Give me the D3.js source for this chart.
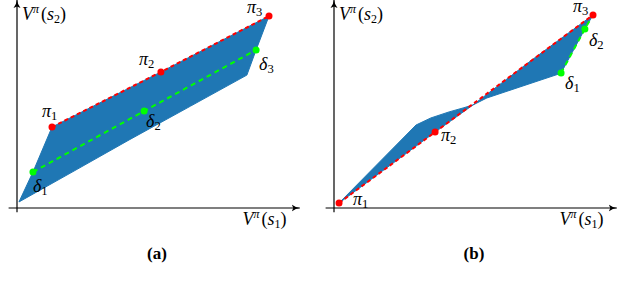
<!DOCTYPE html>
<html>
<head>
<meta charset="utf-8">
<script src="https://cdn.jsdelivr.net/npm/d3@7"></script>
<style>
  body { margin: 0; background: #fff; }
  svg { display: block; }
</style>
</head>
<body>
<svg id="chart" width="636" height="282"></svg>
<script>
const FONT = 'Liberation Serif';

// panel (a): value region, deterministic policies, and their mixture line
const regionA = [[0.007, 0.029], [0.057, 0.173], [0.125, 0.389], [0.514, 0.654], [0.9, 0.923],
	[0.854, 0.76], [0.821, 0.639], [0.62, 0.49], [0.4, 0.327], [0.2, 0.175]];
const piA = [[0.125, 0.389], [0.514, 0.654], [0.9, 0.923]];
const deltaA = [[0.057, 0.173], [0.454, 0.466], [0.854, 0.76]];

// panel (b)
const regionB = [[0.018, 0.024], [0.293, 0.399], [0.346, 0.433], [0.411, 0.462], [0.461, 0.481],
	[0.496, 0.495], [0.7, 0.705], [0.925, 0.928], [0.896, 0.861], [0.811, 0.649],
	[0.8, 0.643], [0.664, 0.582], [0.546, 0.529], [0.496, 0.495], [0.361, 0.365], [0.018, 0.024]];
const piB = [[0.018, 0.024], [0.361, 0.365], [0.925, 0.928]];
const deltaB = [[0.811, 0.649], [0.896, 0.861], [0.925, 0.928]];

const piNames = ['1', '2', '3'];
const deltaNamesA = ['1', '2', '3'];
const deltaNamesB = ['1', '2'];
const panelTitles = ['(a)', '(b)'];

const svg = d3.select('#chart');

svg.append('defs').append('marker')
	.attr('id', 'arrowhead')
	.attr('markerUnits', 'userSpaceOnUse')
	.attr('markerWidth', 10)
	.attr('markerHeight', 8)
	.attr('refX', 8)
	.attr('refY', 4)
	.attr('orient', 'auto')
	.append('path')
		.attr('d', 'M0,0.5 Q4,3.5 8,4 Q4,4.5 0,7.5 L1.5,4 Z')
		.attr('fill', '#000');

function sub(base, index, x, y, size) {
	const t = svg.append('text')
		.attr('font-family', FONT)
		.attr('font-style', 'italic')
		.attr('x', x)
		.attr('y', y)
		.attr('font-size', size);
	t.append('tspan').text(base);
	t.append('tspan').attr('dy', 3).attr('font-size', size * 0.7).attr('font-style', 'normal').text(index);
	return t;
}

function axisLabel(x, y, s) {
	const t = svg.append('text')
		.attr('font-family', FONT)
		.attr('font-style', 'italic')
		.attr('x', x)
		.attr('y', y)
		.attr('font-size', 18);
	t.append('tspan').text('V');
	t.append('tspan').attr('dy', -7).attr('font-size', 12).text('π');
	t.append('tspan').attr('dy', 7).attr('dx', 2).attr('font-style', 'normal').text('(');
	t.append('tspan').text('s');
	t.append('tspan').attr('dy', 3).attr('font-size', 12).attr('font-style', 'normal').text(s);
	t.append('tspan').attr('dy', -3).attr('font-style', 'normal').text(')');
}

function drawPanel(opt) {
	const x = d3.scaleLinear().domain([0, 1]).range([opt.x0, opt.x0 + 280]);
	const y = d3.scaleLinear().domain([0, 1]).range([208, 0]);
	const g = svg.append('g');

	// axes
	g.append('line')
		.attr('x1', x(-0.03)).attr('y1', y(0)).attr('x2', x(1.01)).attr('y2', y(0))
		.attr('stroke', '#000').attr('stroke-width', 1.2).attr('marker-end', 'url(#arrowhead)');
	g.append('line')
		.attr('x1', x(0)).attr('y1', y(-0.02)).attr('x2', x(0)).attr('y2', y(1.0))
		.attr('stroke', '#000').attr('stroke-width', 1.2).attr('marker-end', 'url(#arrowhead)');

	const line = d3.line().x(d => x(d[0])).y(d => y(d[1]));

	g.append('path')
		.attr('d', line(opt.region) + 'Z')
		.attr('fill', '#1f77b4')
		.attr('stroke', '#1f77b4')
		.attr('stroke-width', 1);

	g.append('path')
		.attr('d', line(opt.pi))
		.attr('fill', 'none')
		.attr('stroke', '#ff0000')
		.attr('stroke-width', 2)
		.attr('stroke-dasharray', '4,3');

	g.append('path')
		.attr('d', line(opt.delta))
		.attr('fill', 'none')
		.attr('stroke', '#00ff00')
		.attr('stroke-width', 2)
		.attr('stroke-dasharray', '5,4');

	g.selectAll('circle.pi')
		.data(opt.pi)
		.enter().append('circle')
			.attr('cx', d => x(d[0]))
			.attr('cy', d => y(d[1]))
			.attr('r', 3.5)
			.attr('fill', '#ff0000');

	g.selectAll('circle.delta')
		.data(opt.delta.slice(0, opt.deltaNames.length))
		.enter().append('circle')
			.attr('cx', d => x(d[0]))
			.attr('cy', d => y(d[1]))
			.attr('r', 3.5)
			.attr('fill', '#00ff00');

	opt.pi.forEach((d, i) => {
		const o = opt.piOffsets[i];
		sub('π', piNames[i], x(d[0]) + o[0], y(d[1]) + o[1], 18);
	});
	opt.deltaNames.forEach((name, i) => {
		const d = opt.delta[i];
		const o = opt.deltaOffsets[i];
		sub('δ', name, x(d[0]) + o[0], y(d[1]) + o[1], 18);
	});

	axisLabel(x(0) + 5, y(0.905), '2');
	axisLabel(x(0.805), y(-0.082), '1');

	svg.append('text')
		.attr('x', x(0.5))
		.attr('y', 259)
		.attr('text-anchor', 'middle')
		.attr('font-family', FONT)
		.attr('font-weight', 'bold')
		.attr('font-size', 17)
		.text(opt.title);
}

drawPanel({
	x0: 17, region: regionA, pi: piA, delta: deltaA, deltaNames: deltaNamesA, title: panelTitles[0],
	piOffsets: [[-10, -10], [-22, -7], [-22, -3]],
	deltaOffsets: [[0, 20], [2, 16], [3, 20]]
});
drawPanel({
	x0: 334, region: regionB, pi: piB, delta: deltaB, deltaNames: deltaNamesB, title: panelTitles[1],
	piOffsets: [[14, 2], [6, 9], [-20, -3]],
	deltaOffsets: [[4, 16], [4, 17]]
});
</script>
</body>
</html>
